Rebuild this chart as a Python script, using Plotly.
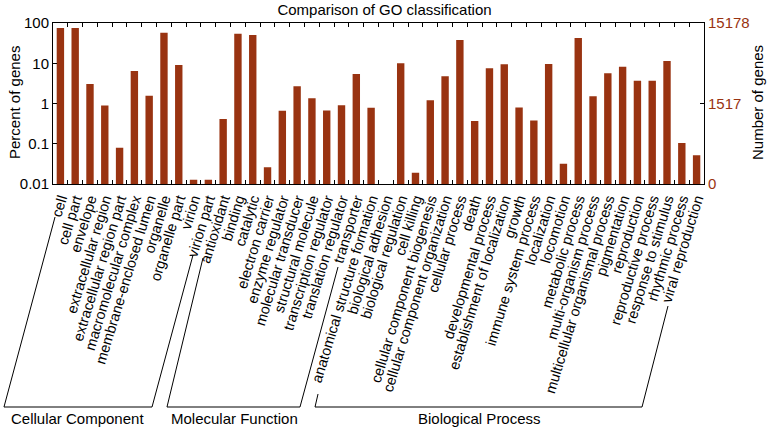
import plotly.graph_objects as go

# GO terms (x categories) and percent of genes for each
cellular_component = ['cell', 'cell part', 'envelope', 'extracellular region',
                      'extracellular region part', 'macromolecular complex',
                      'membrane-enclosed lumen', 'organelle', 'organelle part',
                      'virion', 'virion part']
molecular_function = ['antioxidant', 'binding', 'catalytic', 'electron carrier',
                      'enzyme regulator', 'molecular transducer', 'structural molecule',
                      'transcription regulator', 'translation regulator', 'transporter']
biological_process = ['anatomical structure formation', 'biological adhesion',
                      'biological regulation', 'cell killing',
                      'cellular component biogenesis', 'cellular component organization',
                      'cellular process', 'death', 'developmental process',
                      'establishment of localization', 'growth', 'immune system process',
                      'localization', 'locomotion', 'metabolic process',
                      'multi-organism process', 'multicellular organismal process',
                      'pigmentation', 'reproduction', 'reproductive process',
                      'response to stimulus', 'rhythmic process', 'viral reproduction']

cc_percent = [75, 75, 3.05, 0.89, 0.079, 6.4, 1.55, 57, 9.1, 0.0127, 0.0127]
mf_percent = [0.41, 54, 50, 0.026, 0.66, 2.7, 1.35, 0.67, 0.9, 5.4]
bp_percent = [0.78, None, 10, 0.019, 1.2, 4.75, 38, 0.37, 7.5, 9.4, 0.79, 0.38,
              9.6, 0.032, 42.5, 1.52, 5.65, 8.2, 3.7, 3.7, 11.4, 0.104, 0.052]

left_ticks = [0.01, 0.1, 1, 10, 100]
left_labels = ['0.01', '0.1', '1', '10', '100']
right_ticks = [0.01, 1, 100]
right_labels = ['0', '1517', '15178']

groups = ['Cellular Component', 'Molecular Function', 'Biological Process']

terms = cellular_component + molecular_function + biological_process
percent = cc_percent + mf_percent + bp_percent

W, H = 769, 431
ML, MR, MT, MB = 53, 65, 23, 247
BAR = '#993311'
FONT = 'Liberation Sans, Arial, sans-serif'
FS = 15


def px(x, y):
    # pixel position on the page -> paper coordinates
    return (x - ML) / (W - ML - MR), (H - MB - y) / (H - MT - MB)


fig = go.Figure()
fig.add_trace(go.Bar(x=terms, y=percent, width=0.5, marker_color=BAR,
                     marker_line_width=0, showlegend=False))
# dummy trace so the right axis is drawn
fig.add_trace(go.Scatter(x=[terms[0]], y=[1], yaxis='y2', mode='markers',
                         marker=dict(opacity=0), showlegend=False, hoverinfo='skip'))

# brackets under the labels (pixel outlines)
brackets = [
    [(55, 217), (4, 407), (152, 407), (193, 255)],
    [(203, 258), (167, 407), (300, 407), (338, 267)],
    [(318, 394), (315, 407), (642, 407), (668, 306)],
]
for pts in brackets:
    path = ''
    for i, (x, y) in enumerate(pts):
        a, b = px(x, y)
        path += ('M' if i == 0 else 'L') + f'{a:.4f},{b:.4f} '
    fig.add_shape(type='path', path=path, xref='paper', yref='paper',
                  line=dict(color='black', width=1))

group_x = [77, 234, 479]
for name, gx in zip(groups, group_x):
    a, b = px(gx, 419)
    fig.add_annotation(text=name, x=a, y=b, xref='paper', yref='paper',
                       xanchor='center', yanchor='middle',
                       showarrow=False, font=dict(size=FS, color='black'))

a, b = px(14, 103)
fig.add_annotation(text='Percent of genes', x=a, y=b, xref='paper', yref='paper',
                   xanchor='center', yanchor='middle',
                   textangle=-90, showarrow=False, font=dict(size=FS, color='black'))
a, b = px(757, 103)
fig.add_annotation(text='Number of genes', x=a, y=b, xref='paper', yref='paper',
                   xanchor='center', yanchor='middle',
                   textangle=-90, showarrow=False, font=dict(size=FS, color='black'))

fig.update_layout(
    width=W, height=H,
    margin=dict(l=ML, r=MR, t=MT, b=MB, autoexpand=False),
    paper_bgcolor='white', plot_bgcolor='white',
    font=dict(family=FONT, size=FS, color='black'),
    title=dict(text='Comparison of GO classification', x=0.5, xanchor='center',
               y=1 - 10 / H, yanchor='middle', font=dict(size=FS)),
    bargap=0.5,
    xaxis=dict(type='category', range=[-0.5, len(terms) - 0.5],
               tickmode='linear', tick0=0, dtick=1,
               tickangle=-73, tickson='boundaries',
               ticks='inside', ticklen=4, tickcolor='black',
               showline=True, linecolor='black', linewidth=1, mirror='ticks',
               showgrid=False, automargin=False, tickfont=dict(size=14.5)),
    yaxis=dict(type='log', range=[-2, 2], tickvals=left_ticks, ticktext=left_labels,
               ticks='inside', ticklen=4, tickcolor='black',
               showline=True, linecolor='black', linewidth=1, mirror=True,
               showgrid=False, zeroline=False, automargin=False,
               tickfont=dict(size=FS)),
    yaxis2=dict(type='log', range=[-2, 2], overlaying='y', side='right',
                tickvals=right_ticks, ticktext=right_labels,
                ticks='inside', ticklen=4, tickcolor='black',
                showline=True, linecolor='black', linewidth=1,
                showgrid=False, zeroline=False, automargin=False,
                tickfont=dict(size=FS, color=BAR)),
)

# drop the default page margin so the figure fills the window
fig.write_html('out.html', config={'displayModeBar': False},
               post_script="document.body.style.margin='0px';")
